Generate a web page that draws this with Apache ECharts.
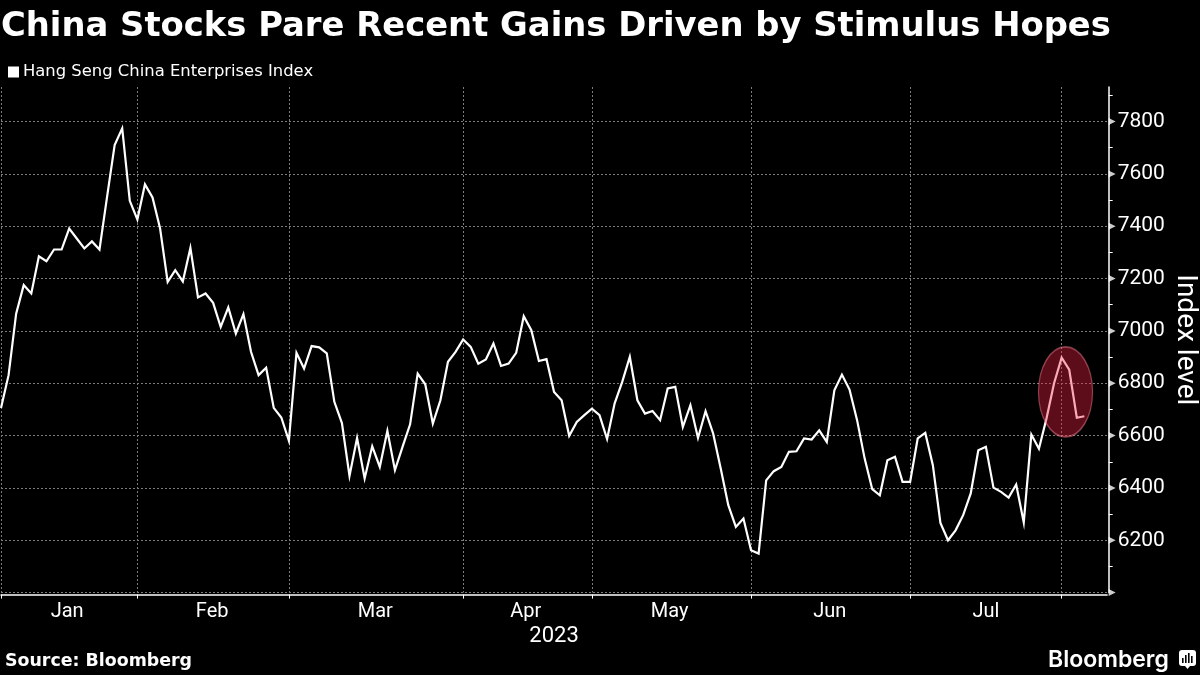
<!DOCTYPE html>
<html><head><meta charset="utf-8">
<style>html,body{margin:0;padding:0;background:#000}#c{width:1200px;height:675px}</style>
<script src="https://cdn.jsdelivr.net/npm/echarts@6/dist/echarts.min.js"></script>
</head><body><div id="c"></div>
<script>
const seriesName = 'Hang Seng China Enterprises Index';
const months = ['Jan','Feb','Mar','Apr','May','Jun','Jul'];
const monthStarts = [0,18,38,61,78,99,120,140];
const monthLabelAt = [9,28,49,69,88,109,130];
const yTickValues = [6000,6200,6400,6600,6800,7000,7200,7400,7600,7800];
const values = [
6705,6831,7066,7175,7143,7285,7266,7311,7311,7391,7353,7315,7342,7311,7512,7710,7774,7497,
7426,7560,7510,7391,7187,7232,7189,7317,7128,7143,7107,7015,7090,6990,7064,6920,6831,6859,6706,6669,
6580,6916,6856,6942,6937,6914,6729,6648,6446,6591,6436,6559,6480,6618,6468,6557,6643,6837,6796,6646,6735,6882,6920,
6967,6939,6875,6891,6952,6866,6875,6916,7056,7003,6885,6892,6767,6735,6599,6652,
6678,6703,6678,6587,6723,6805,6901,6735,6684,6694,6659,6780,6786,6633,6716,6591,6693,6608,6474,6334,6251,6283,
6162,6149,6429,6464,6480,6538,6540,6589,6585,6620,6576,6773,6833,6776,6659,6512,6395,6372,6506,6519,6423,
6423,6589,6610,6487,6266,6200,6238,6296,6379,6544,6557,6401,6385,6363,6413,6268,6604,6550,6665,6800,
6898,6852,6668,6674];
const highlightPoint = [141,6767];
const slots = 147;
const categories = Array.from({length:slots},(_,i)=>{const k=monthLabelAt.indexOf(i);return k>=0?months[k]:'';});
const gridColor = '#7c7c7c';
const monthFont = {color:'#fff',fontFamily:'Roboto',fontSize:20};
const monthRich = {
  Jan:{...monthFont,padding:[0,4,0,0]}, Feb:{...monthFont,padding:[0,2,0,0]},
  Mar:{...monthFont,padding:[0,0,0,6]}, Apr:{...monthFont,padding:[0,0,0,4]},
  May:{...monthFont,padding:[0,0,0,4]}, Jun:{...monthFont,padding:[0,0,0,6]}, Jul:{...monthFont}
};
const chart = echarts.init(document.getElementById('c'),null,{renderer:'canvas'});
chart.setOption({
  animation:false,
  backgroundColor:'#000',
  title:[
    {text:'China Stocks Pare Recent Gains Driven by Stimulus Hopes',left:1,top:10,padding:0,
     textStyle:{color:'#fff',fontFamily:'DejaVu Sans',fontWeight:'bold',fontSize:33.8}},
    {text:'Source: Bloomberg',left:5,top:653,padding:0,
     textStyle:{color:'#fff',fontFamily:'DejaVu Sans',fontWeight:'bold',fontSize:17.4}},
    {text:'Bloomberg',left:1048,top:649,padding:0,
     textStyle:{color:'#fff',fontFamily:'Inter',fontWeight:600,fontSize:23}}
  ],
  legend:{data:[seriesName],left:8,top:64,icon:'rect',itemWidth:11,itemHeight:11,itemGap:5,padding:0,
    textStyle:{color:'#fff',fontFamily:'DejaVu Sans',fontSize:16.4,padding:[0,0,0,-1]}},
  grid:{left:1,top:87,width:1106.1,height:505.6,outerBoundsMode:'none'},
  xAxis:{type:'category',data:categories,boundaryGap:false,offset:2,
    name:'2023',nameLocation:'middle',nameGap:31,nameMoveOverlap:false,
    nameTextStyle:{color:'#fff',fontFamily:'Roboto',fontSize:22},
    axisLine:{lineStyle:{color:'#fff',width:1.5}},
    axisTick:{length:4,lineStyle:{color:'#fff',width:1},interval:i=>monthStarts.includes(i)},
    axisLabel:{...monthFont,margin:7,interval:i=>monthLabelAt.includes(i),
      formatter:v=>v?`{${v}|${v}}`:'',rich:monthRich},
    splitLine:{show:true,interval:i=>monthStarts.includes(i),lineStyle:{color:gridColor,type:[2,2],width:1}}
  },
  yAxis:{type:'value',position:'right',min:6000,max:7932,interval:200,offset:1.6,
    name:'Index level',nameLocation:'middle',nameGap:62,nameRotate:-90,nameMoveOverlap:false,
    nameTextStyle:{color:'#fff',fontFamily:'Roboto',fontSize:28},
    axisLine:{show:true,lineStyle:{color:'#fff',width:1.5}},
    axisTick:{show:false},
    minorTick:{show:true,splitNumber:2,length:4,lineStyle:{color:'#fff',width:1}},
    axisLabel:{color:'#fff',fontFamily:'Roboto',fontSize:21,margin:9,
      formatter:v=>(v>=6200&&v%200===0)?String(v):''},
    splitLine:{show:true,showMaxLine:false,lineStyle:{color:gridColor,type:[2,2],width:1}}
  },
  series:[
    {name:seriesName,type:'line',data:values,symbol:'none',z:3,
     lineStyle:{color:'#fff',width:2.2,join:'miter'},itemStyle:{color:'#fff'}},
    {name:'highlight',type:'scatter',data:[highlightPoint],z:5,silent:true,clip:false,
     symbol:'circle',symbolSize:[54,90],symbolOffset:[-3.7,0],
     itemStyle:{color:'rgba(240,35,65,0.48)',borderColor:'rgba(255,130,150,0.6)',borderWidth:1.5}},
    {name:'ticks',type:'scatter',data:yTickValues.map(v=>[slots-1,v]),z:4,silent:true,clip:false,
     symbol:'triangle',symbolRotate:-90,symbolSize:[7,7],symbolOffset:[5,0],
     itemStyle:{color:'#fff'}}
  ],
  graphic:[{type:'group',left:1179,top:650,children:[
    {type:'rect',shape:{x:0,y:0,width:17,height:16,r:3},style:{fill:'#fff'}},
    {type:'polygon',shape:{points:[[6,16],[11,16],[8.5,19]]},style:{fill:'#fff'}},
    {type:'rect',shape:{x:3,y:8,width:1.6,height:5},style:{fill:'#000'}},
    {type:'rect',shape:{x:6,y:5,width:1.6,height:8},style:{fill:'#000'}},
    {type:'rect',shape:{x:9,y:3,width:1.6,height:10},style:{fill:'#000'}},
    {type:'rect',shape:{x:12,y:6,width:1.6,height:7},style:{fill:'#000'}}
  ]}]
});
</script></body></html>
